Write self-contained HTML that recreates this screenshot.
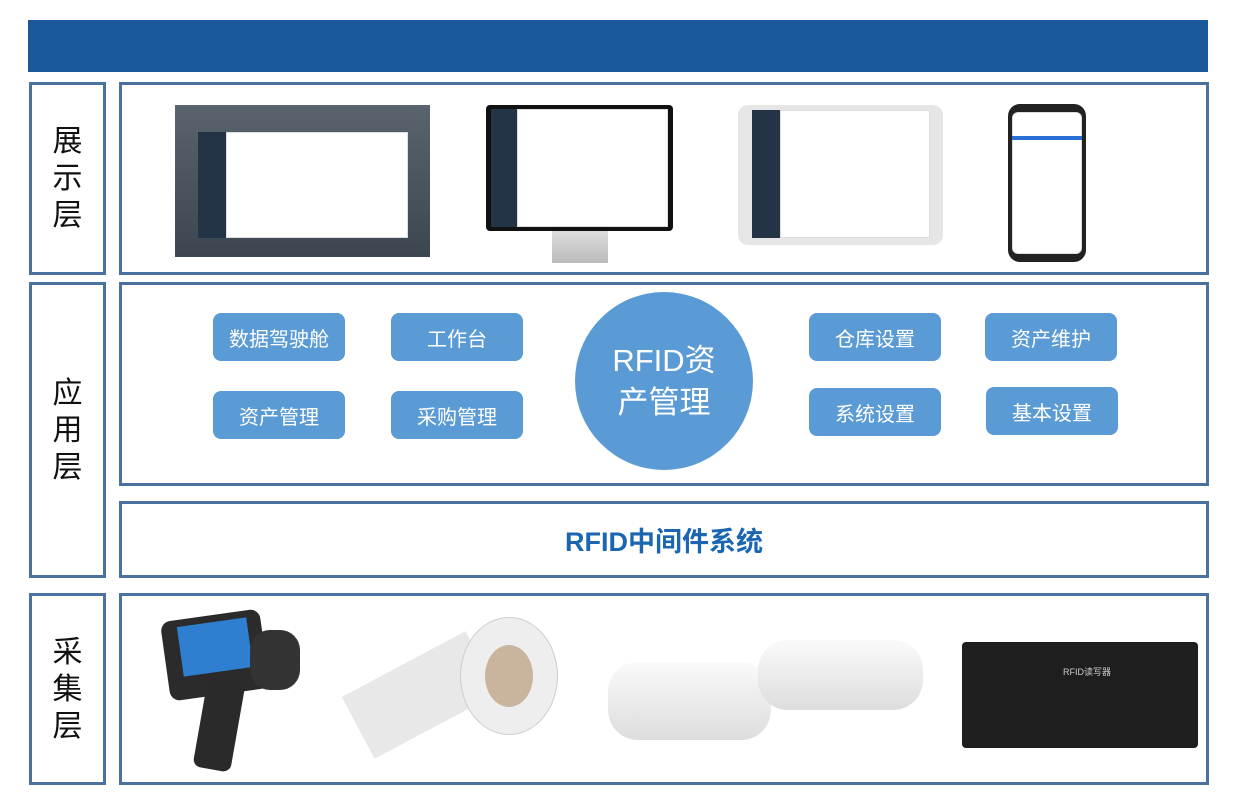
<!DOCTYPE html>
<html><head><meta charset="utf-8"><style>
body{margin:0;width:1258px;height:792px;background:#fff;position:relative;overflow:hidden;font-family:"Liberation Sans","Noto Sans CJK SC",sans-serif}
.a{position:absolute;box-sizing:border-box}
.bx{border:3px solid #4a71a0;background:#fff}
.lab{font-size:30px;color:#111;text-align:center;line-height:37px;display:flex;align-items:center;justify-content:center}
.btn{background:#5b9bd5;border-radius:8px;color:#fff;font-size:20px;display:flex;align-items:center;justify-content:center}
.scr{background:#fff;border:1px solid #ddd}
.side{background:#243447}
</style></head><body>
<div class="a" style="left:28px;top:20px;width:1180px;height:52px;background:#1a5a9c"></div>

<div class="a bx lab" style="left:29px;top:82px;width:77px;height:193px">展<br>示<br>层</div>
<div class="a bx lab" style="left:29px;top:282px;width:77px;height:296px">应<br>用<br>层</div>
<div class="a bx lab" style="left:29px;top:593px;width:77px;height:192px">采<br>集<br>层</div>

<div class="a bx" style="left:119px;top:82px;width:1090px;height:193px"></div>
<div class="a bx" style="left:119px;top:282px;width:1090px;height:204px"></div>
<div class="a bx" style="left:119px;top:501px;width:1090px;height:77px;display:flex;align-items:center;justify-content:center;color:#1a66b0;font-size:27px;font-weight:bold">RFID中间件系统</div>
<div class="a bx" style="left:119px;top:593px;width:1090px;height:192px"></div>

<!-- display devices -->
<div class="a" style="left:175px;top:105px;width:255px;height:152px;background:linear-gradient(#5a646e,#3c4650)"></div>
<div class="a side" style="left:198px;top:132px;width:28px;height:106px"></div>
<div class="a scr" style="left:226px;top:132px;width:182px;height:106px"></div>
<div class="a" style="left:486px;top:105px;width:187px;height:126px;background:#111;border-radius:4px"></div>
<div class="a side" style="left:491px;top:109px;width:26px;height:118px"></div>
<div class="a scr" style="left:517px;top:109px;width:151px;height:118px"></div>
<div class="a" style="left:552px;top:231px;width:56px;height:32px;background:linear-gradient(#ddd,#bbb)"></div>
<div class="a" style="left:738px;top:105px;width:205px;height:140px;background:#e6e6e6;border-radius:10px"></div>
<div class="a side" style="left:752px;top:110px;width:28px;height:128px"></div>
<div class="a scr" style="left:780px;top:110px;width:150px;height:128px"></div>
<div class="a" style="left:1008px;top:104px;width:78px;height:158px;background:#222;border-radius:12px"></div>
<div class="a scr" style="left:1012px;top:112px;width:70px;height:142px;border-radius:6px"></div>
<div class="a" style="left:1012px;top:136px;width:70px;height:4px;background:#2a6fd6"></div>

<!-- app layer -->
<div class="a btn" style="left:213px;top:313px;width:132px;height:48px">数据驾驶舱</div>
<div class="a btn" style="left:391px;top:313px;width:132px;height:48px">工作台</div>
<div class="a btn" style="left:213px;top:391px;width:132px;height:48px">资产管理</div>
<div class="a btn" style="left:391px;top:391px;width:132px;height:48px">采购管理</div>
<div class="a btn" style="left:809px;top:313px;width:132px;height:48px">仓库设置</div>
<div class="a btn" style="left:809px;top:388px;width:132px;height:48px">系统设置</div>
<div class="a btn" style="left:985px;top:313px;width:132px;height:48px">资产维护</div>
<div class="a btn" style="left:986px;top:387px;width:132px;height:48px">基本设置</div>
<div class="a" style="left:575px;top:292px;width:178px;height:178px;border-radius:50%;background:#5b9bd5;color:#fff;font-size:31px;line-height:42px;text-align:center;padding-top:48px">RFID资<br>产管理</div>

<!-- collection devices -->
<div class="a" style="left:165px;top:615px;width:100px;height:80px;background:#2b2b2b;border-radius:10px;transform:rotate(-8deg)"></div>
<div class="a" style="left:180px;top:622px;width:70px;height:50px;background:#2f7fd0;transform:rotate(-8deg)"></div>
<div class="a" style="left:250px;top:630px;width:50px;height:60px;background:#333;border-radius:20px"></div>
<div class="a" style="left:200px;top:680px;width:38px;height:90px;background:#2a2a2a;border-radius:8px;transform:rotate(10deg)"></div>
<div class="a" style="left:350px;top:660px;width:140px;height:70px;background:#e8e8e8;transform:rotate(-28deg)"></div>
<div class="a" style="left:460px;top:617px;width:98px;height:118px;border-radius:50%;background:#eee;border:1px solid #ccc"></div>
<div class="a" style="left:485px;top:645px;width:48px;height:62px;border-radius:50%;background:#c9b49e"></div>
<div class="a" style="left:608px;top:662px;width:163px;height:78px;background:linear-gradient(#fafafa,#ddd);border-radius:30px"></div>
<div class="a" style="left:758px;top:640px;width:165px;height:70px;background:linear-gradient(#fafafa,#ddd);border-radius:30px"></div>
<div class="a" style="left:962px;top:642px;width:236px;height:106px;background:#1e1e1e;border-radius:4px"></div>
<div class="a" style="left:1063px;top:665px;color:#ccc;font-size:9px">RFID读写器</div>
</body></html>
